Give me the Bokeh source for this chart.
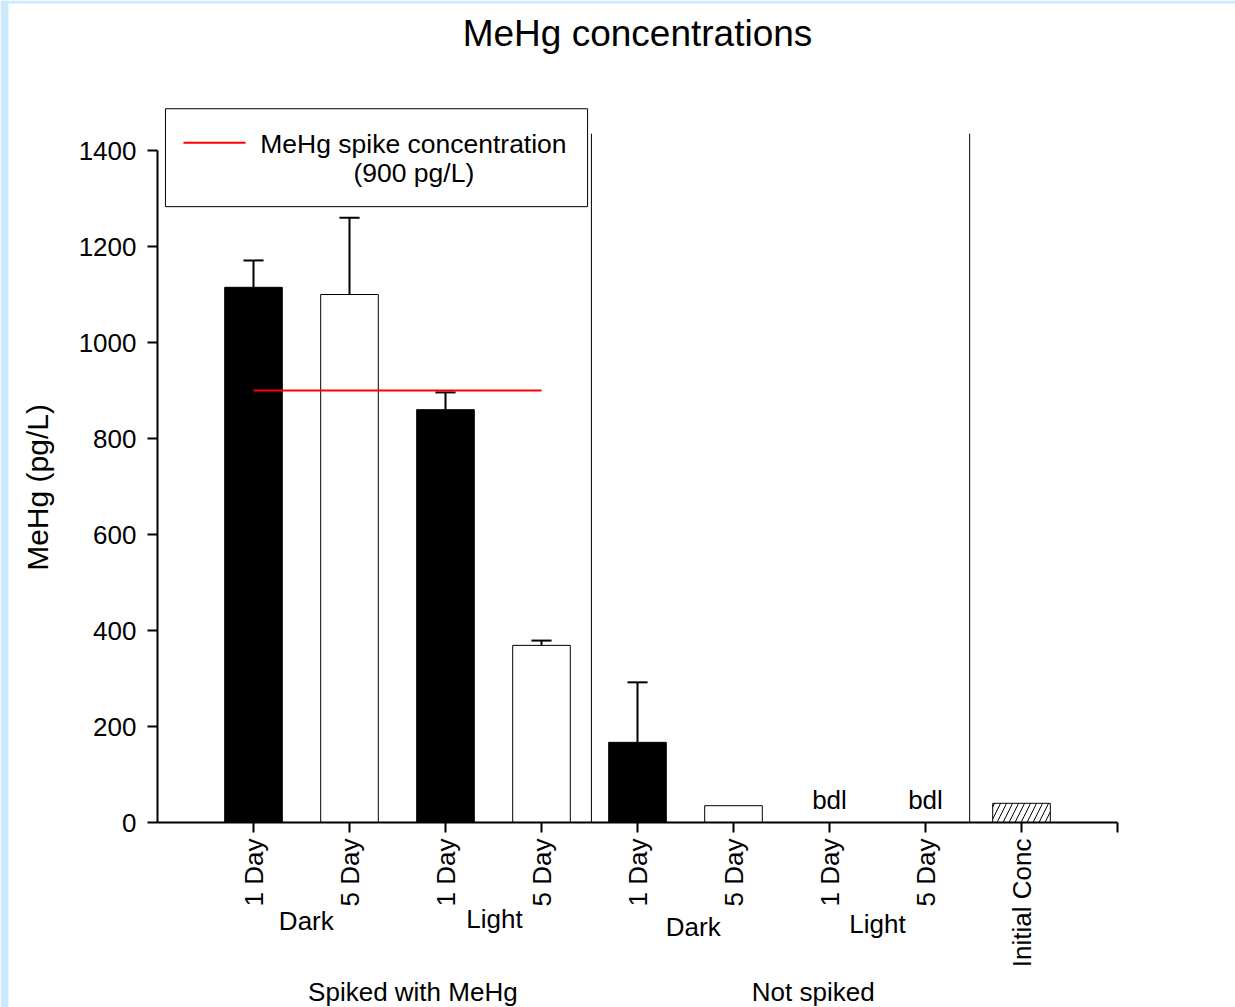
import math
from bokeh.plotting import figure
from bokeh.models import Range1d, FixedTicker, Label, ColumnDataSource, BoxAnnotation
from bokeh.embed import file_html
from bokeh.resources import INLINE

# ---- data ----
positions = [1, 2, 3, 4, 5, 6, 7, 8, 9]
tick_labels = ["1 Day", "5 Day", "1 Day", "5 Day", "1 Day", "5 Day", "1 Day", "5 Day", "Initial Conc"]
means = [1115, 1100, 860, 369, 167, 35, 0, 0, 40]
errors = [56, 160, 36, 10, 125, 0, 0, 0, 0]
fills = ["black", "white", "black", "white", "black", "white", "white", "white", "white"]
hatches = ["", "", "", "", "", "", "", "", "/"]
spike_value = 900
spike_span = [1, 4]
bdl_positions = [7, 8]
group_labels = ["Dark", "Light", "Dark", "Light"]
group_x = [1.55, 3.51, 5.58, 7.5]
group_y = [-206, -200, -217, -212]
super_labels = ["Spiked with MeHg", "Not spiked"]
super_x = [2.66, 6.83]
super_y = [-354, -354]
separators = [4.52, 8.46]
y_ticks = [0, 200, 400, 600, 800, 1000, 1200, 1400]

FONT = "Liberation Sans"

X0, X1 = -157 / 96, 10 + 118 / 96
Y0, Y1 = -185 / 0.48, 822 / 0.48

# The frame covers the whole canvas; axes are pinned at x=0 / y=0.
p = figure(width=1235, height=1007, output_backend="svg", toolbar_location=None,
           x_range=Range1d(X0, X1), y_range=Range1d(Y0, Y1), min_border=0)
p.outline_line_color = None
p.xgrid.visible = False
p.ygrid.visible = False
p.background_fill_color = "white"
p.border_fill_color = "white"

# light-blue page edge seen in the original image (left and top strips)
p.add_layout(BoxAnnotation(left=X0, right=X0 + 8 / 96, bottom=Y0, top=Y1,
                           fill_color="#cdeafd", fill_alpha=1, line_color=None, level="underlay"))
p.add_layout(BoxAnnotation(left=X0, right=X1, bottom=Y1 - 3 / 0.48, top=Y1,
                           fill_color="#cdeafd", fill_alpha=1, line_color=None, level="underlay"))

# x axis
xa = p.xaxis[0]
xa.fixed_location = 0
xa.ticker = FixedTicker(ticks=positions + [10])
overrides = {pos: lab for pos, lab in zip(positions, tick_labels)}
overrides[10] = ""
xa.major_label_overrides = overrides
xa.major_label_orientation = math.pi / 2
xa.major_label_text_font = FONT
xa.major_label_text_font_size = "26px"
xa.major_label_text_color = "black"
xa.major_label_standoff = 6
xa.major_tick_in = 0
xa.major_tick_out = 10
xa.major_tick_line_width = 2
xa.minor_tick_line_color = None
xa.axis_line_width = 2
xa.axis_line_color = "black"
xa.major_tick_line_color = "black"
xa.bounds = (0, 10)

# y axis
ya = p.yaxis[0]
ya.fixed_location = 0
ya.ticker = FixedTicker(ticks=y_ticks)
ya.major_label_text_font = FONT
ya.major_label_text_font_size = "26px"
ya.major_label_text_color = "black"
ya.major_label_standoff = 11
ya.major_tick_in = 0
ya.major_tick_out = 10
ya.major_tick_line_width = 2
ya.minor_tick_line_color = None
ya.axis_line_width = 2
ya.axis_line_color = "black"
ya.major_tick_line_color = "black"
ya.bounds = (0, 1400)

# legend box (drawn beneath everything)
p.add_layout(BoxAnnotation(left=0.083, right=4.48, bottom=1283, top=1487,
                           fill_color="white", fill_alpha=1, line_color="black",
                           line_alpha=1, line_width=1, level="underlay"))

# bars
src = ColumnDataSource(dict(x=positions, top=means, fill=fills, hatch=hatches))
p.vbar(x="x", top="top", width=0.6, source=src, fill_color="fill", line_color="black",
       line_width=1, hatch_pattern="hatch", hatch_color="black", hatch_scale=12, hatch_weight=1)

# error bars
ex = [x for x, e in zip(positions, errors) if e > 0]
elo = [m for m, e in zip(means, errors) if e > 0]
ehi = [m + e for m, e in zip(means, errors) if e > 0]
p.segment(x0=ex, y0=elo, x1=ex, y1=ehi, line_color="black", line_width=2)
p.segment(x0=[x - 0.105 for x in ex], y0=ehi, x1=[x + 0.105 for x in ex], y1=ehi,
          line_color="black", line_width=2)

# separators
p.segment(x0=separators, y0=[0] * len(separators), x1=separators, y1=[1435] * len(separators),
          line_color="black", line_width=1)

# spike line
p.segment(x0=[spike_span[0]], y0=[spike_value], x1=[spike_span[1]], y1=[spike_value],
          line_color="red", line_width=2)

# legend contents
p.segment(x0=[0.27], y0=[1416], x1=[0.917], y1=[1416], line_color="red", line_width=2)
p.add_layout(Label(x=1.07, y=1414, text="MeHg spike concentration", text_font=FONT,
                   text_font_size="26.5px", text_align="left", text_baseline="middle",
                   text_color="black"))
p.add_layout(Label(x=2.67, y=1354, text="(900 pg/L)", text_font=FONT,
                   text_font_size="26.5px", text_align="center", text_baseline="middle",
                   text_color="black"))

def dlabel(x, y, text, size, angle=0.0):
    p.add_layout(Label(x=x, y=y, text=text, text_font=FONT, text_font_size=size,
                       text_align="center", text_baseline="middle", angle=angle,
                       text_color="black"))

# bdl labels
for bx in bdl_positions:
    dlabel(bx, 46, "bdl", "26px")

# title
dlabel(5.0, 1643, "MeHg concentrations", "37px")
# y axis label
dlabel(-1.25, 698, "MeHg (pg/L)", "30px", math.pi / 2)
# group labels
for gx, gy, gl in zip(group_x, group_y, group_labels):
    dlabel(gx, gy, gl, "26px")
for sx, sy, sl in zip(super_x, super_y, super_labels):
    dlabel(sx, sy, sl, "26px")

open("out.html", "w").write(file_html(p, INLINE))
